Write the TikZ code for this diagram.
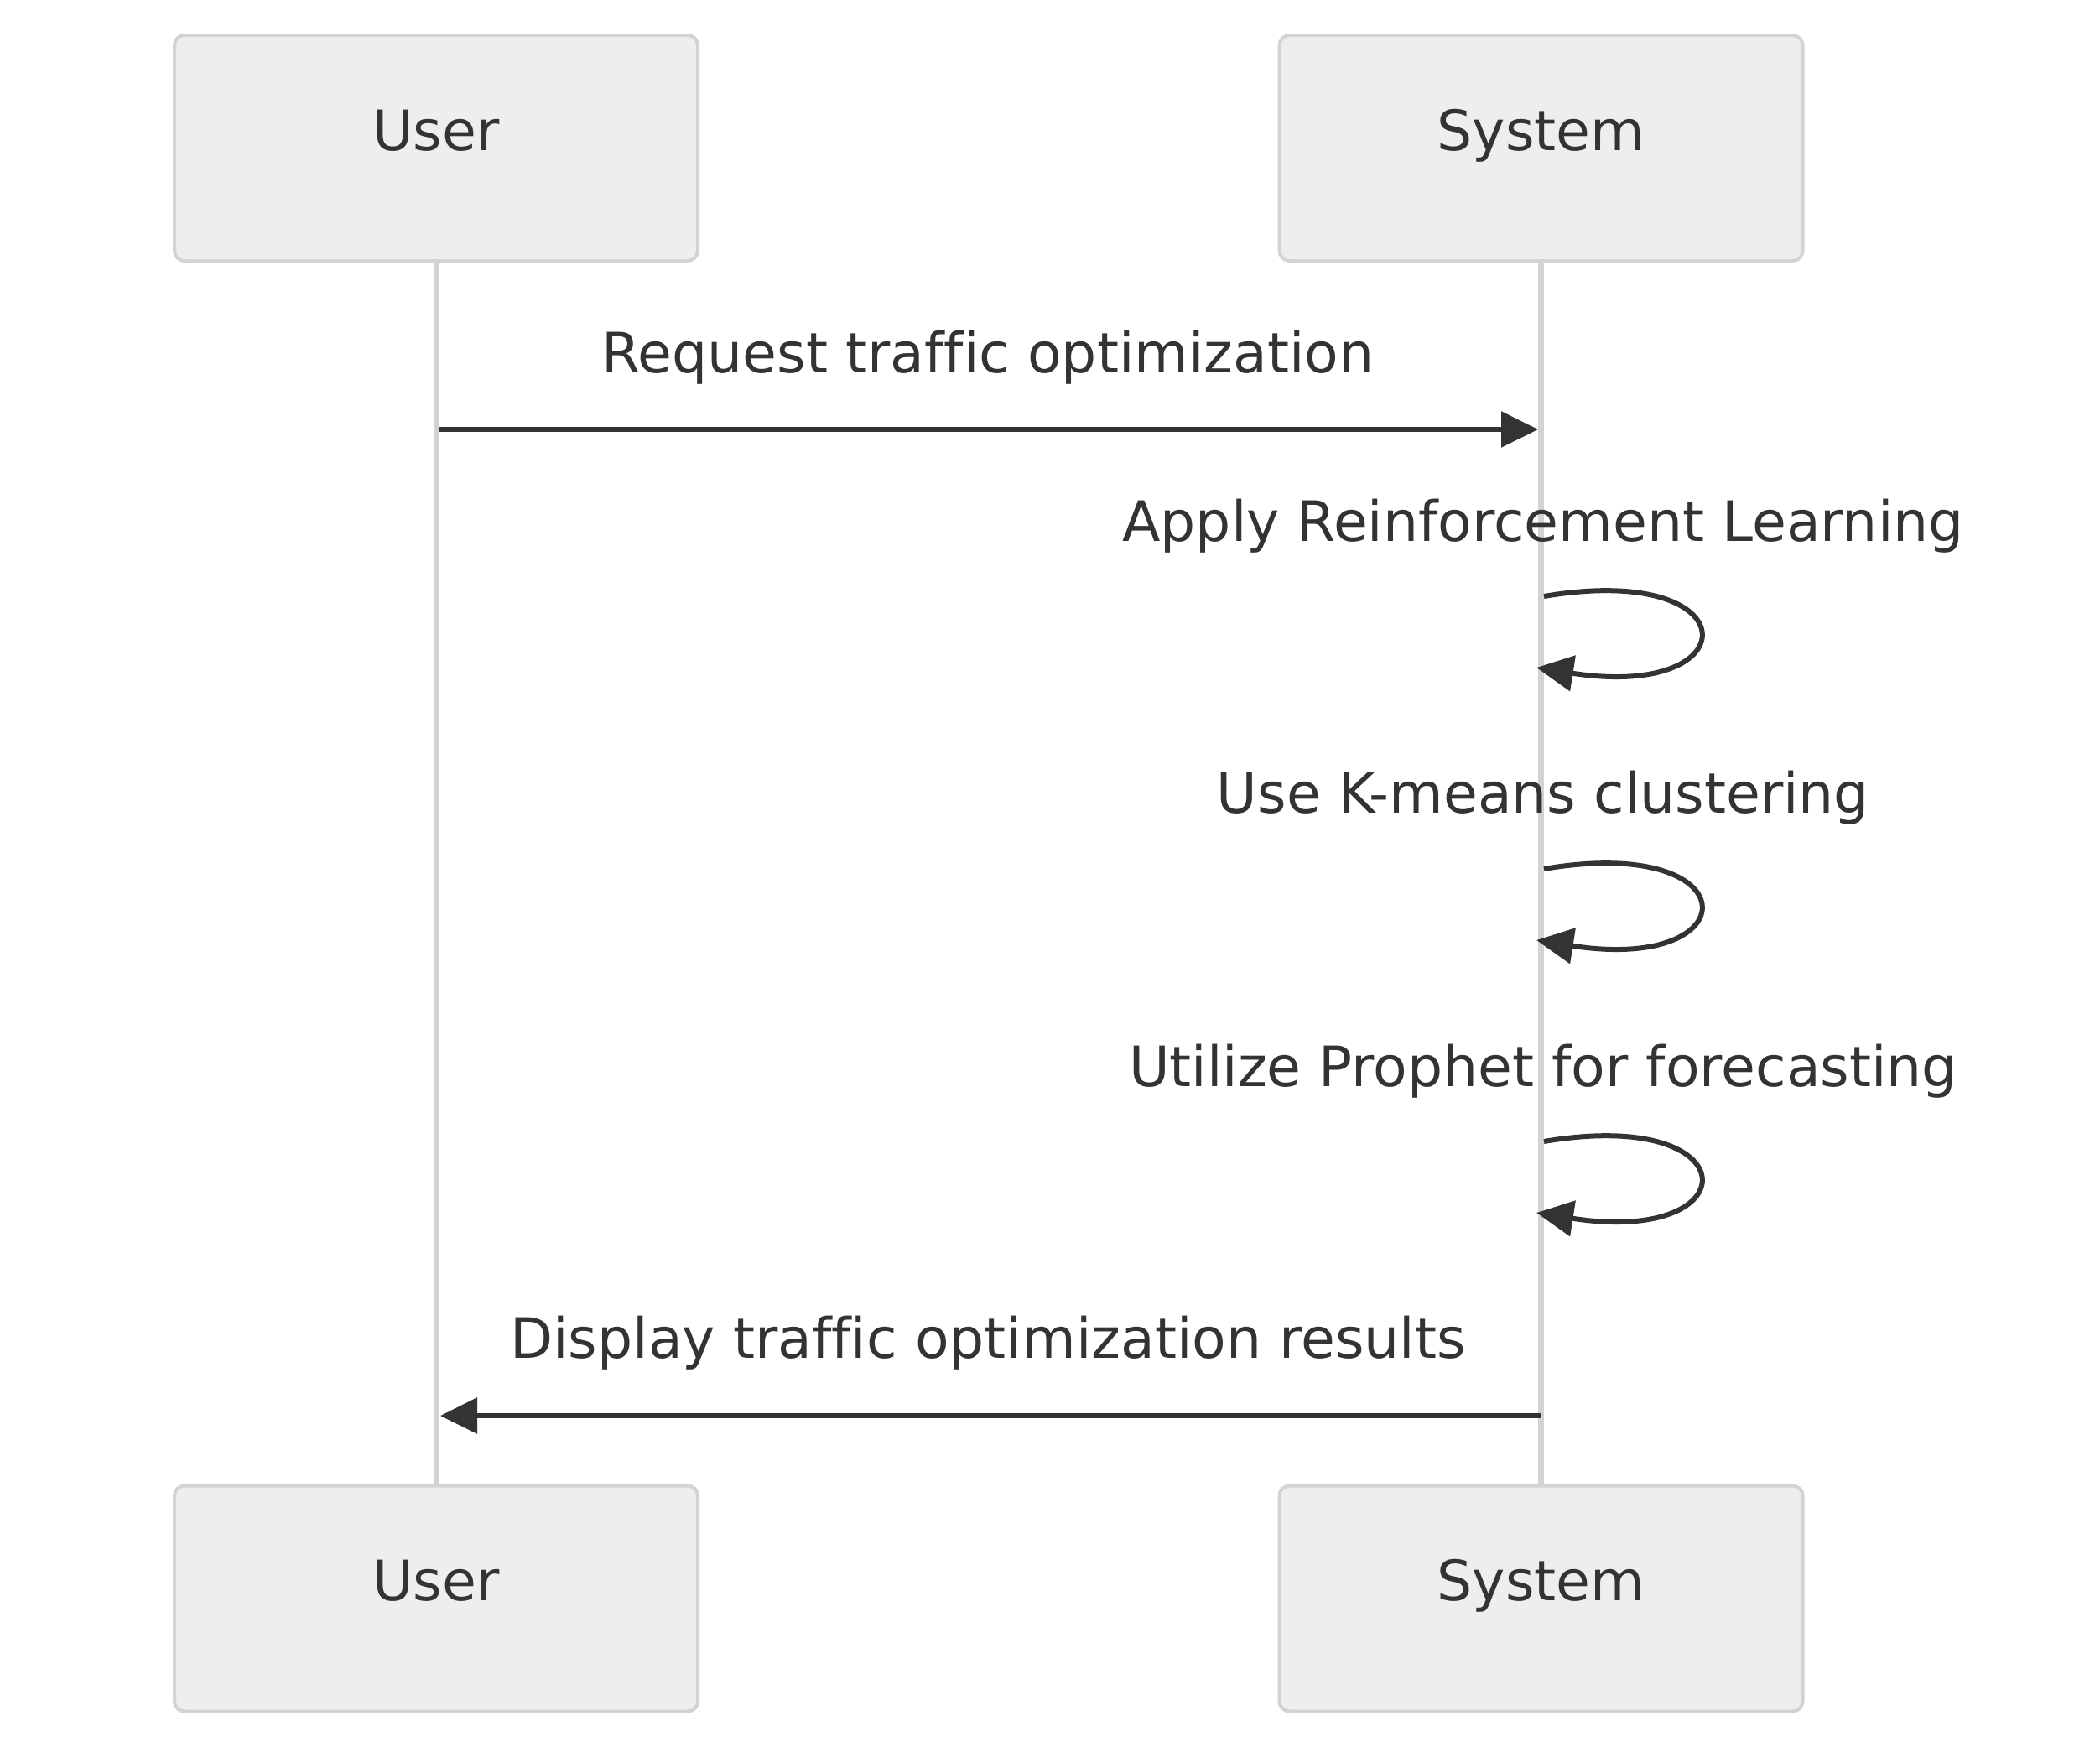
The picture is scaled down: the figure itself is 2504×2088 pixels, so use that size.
\documentclass[tikz,border=0pt]{standalone}
\usepackage{fontspec}
\setmainfont[Ligatures=NoCommon]{DejaVu Sans}
\usetikzlibrary{arrows.meta}
\definecolor{boxfill}{HTML}{EEEEEE}
\definecolor{boxline}{HTML}{D3D3D3}
\definecolor{ink}{HTML}{333333}
\begin{document}
\begin{tikzpicture}[x=0.25pt,y=-0.25pt,
  actor/.style={draw=boxline, fill=boxfill, line width=1pt, rounded corners=3pt,
    minimum width=156pt, minimum height=67.25pt, inner sep=0pt},
  lbl/.style={text=ink, font=\fontsize{16.6pt}{20pt}\selectfont, anchor=base, inner sep=0pt},
  life/.style={draw=boxline, line width=1.75pt},
  msg/.style={draw=ink, line width=1.5pt, -{Triangle[length=11pt,width=10.5pt]}},
]
\useasboundingbox (0,0) rectangle (2504,2088);
% lifelines
\coordinate (uLifeTop) at (520,311);
\coordinate (uLifeBot) at (520,1771);
\coordinate (sLifeTop) at (1837,311);
\coordinate (sLifeBot) at (1837,1771);
\draw[life] (uLifeTop) -- (uLifeBot);
\draw[life] (sLifeTop) -- (sLifeBot);
% actors
\node[actor] (userTop) at (520,176.5) {};
\node[actor] (sysTop) at (1837.5,176.5) {};
\node[actor] (userBot) at (520,1906) {};
\node[actor] (sysBot) at (1837.5,1906) {};
\node[lbl] (userTopText) at (520,179) {User};
\node[lbl] (sysTopText) at (1837.5,179) {System};
\node[lbl] (userBotText) at (520,1908) {User};
\node[lbl] (sysBotText) at (1837.5,1908) {System};
% message 1
\coordinate (m1a) at (524,512);
\coordinate (m1b) at (1834,512);
\draw[msg] (m1a) -- (m1b);
\node[lbl] (m1t) at (1178,444) {Request traffic optimization};
% self loops
\coordinate (l1a) at (1841,711);
\coordinate (l1b) at (1832,796);
\draw[msg] (l1a) .. controls (2087,669) and (2087,836) .. (l1b);
\node[lbl] (l1t) at (1840,645) {Apply Reinforcement Learning};
\coordinate (l2a) at (1841,1036);
\coordinate (l2b) at (1832,1121);
\draw[msg] (l2a) .. controls (2087,994) and (2087,1161) .. (l2b);
\node[lbl] (l2t) at (1840,969) {Use K-means clustering};
\coordinate (l3a) at (1841,1361);
\coordinate (l3b) at (1832,1446);
\draw[msg] (l3a) .. controls (2087,1319) and (2087,1486) .. (l3b);
\node[lbl] (l3t) at (1840,1295) {Utilize Prophet for forecasting};
% message 2
\coordinate (m2a) at (1837,1688);
\coordinate (m2b) at (525,1688);
\draw[msg] (m2a) -- (m2b);
\node[lbl] (m2t) at (1178,1619) {Display traffic optimization results};
\end{tikzpicture}
\end{document}
